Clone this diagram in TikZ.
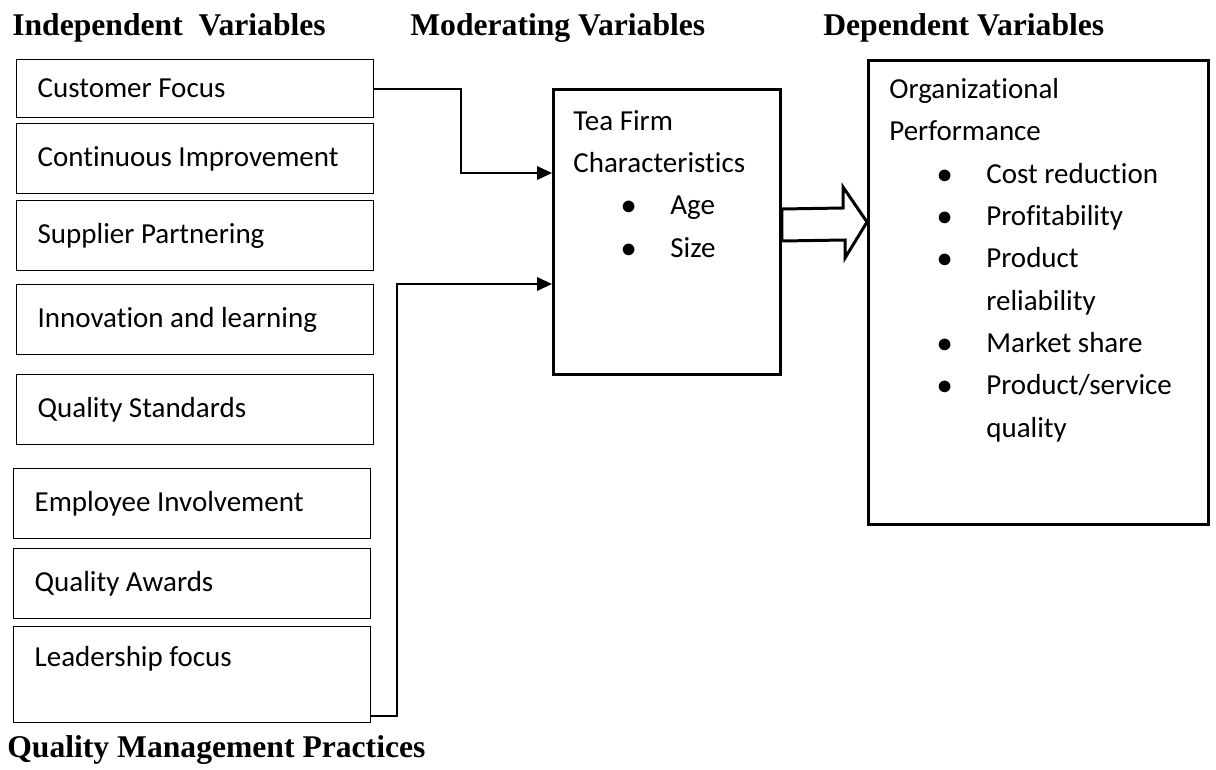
\documentclass[tikz,border=0pt]{standalone}
\usepackage{fontspec}
\usepackage{tikz}
\usetikzlibrary{
    arrows.meta,
    calc,
    positioning
}
\setmainfont{Carlito}[Ligatures=NoCommon]
\newfontfamily\hdrserif{Liberation Serif}
\newcommand{\bodyfnt}{\fontsize{16.5}{24.1}\selectfont}
\newcommand{\hdrfnt}{\hdrserif\bfseries\fontsize{18}{22}\selectfont}
\newcommand{\itm}[1]{\hspace*{0.96cm}\makebox[0.98cm][l]{$\bullet$}#1}
\tikzset{ivbox/.style={draw, line width=0.75pt, anchor=north west, text width=6.3cm, inner xsep=0.42cm, inner ysep=0pt, align=flush left, font=\bodyfnt}}
\tikzset{bigbx/.style={draw, line width=1.7pt, anchor=north west, inner sep=0pt}}
\tikzset{bxtxt/.style={anchor=north west, inner sep=0pt, align=left, font=\bodyfnt}}
\tikzset{hdr/.style={anchor=base west, inner sep=0pt, font=\hdrfnt}}
\tikzset{lnk/.style={line width=1.1pt, -{Triangle[length=0.3cm, width=0.27cm]}}}

\begin{document}
\begin{tikzpicture}[x=0.02cm, y=-0.02cm]
                        \useasboundingbox (0,0) rectangle (1216,770);
                        \node[hdr] (hiv) at (12,36) {Independent~ Variables};
                        \node[hdr] (hmv) at (410,36) {Moderating Variables};
                        \node[hdr] (hdv) at (823,36) {Dependent Variables};
                        \node[hdr] (hqm) at (7,757) {Quality Management Practices};
                        \node[ivbox, minimum height=1.16cm] (b1) at (16,59) {Customer Focus};
                        \node[ivbox, minimum height=1.4cm] (b2) at (16,123) {Continuous Improvement};
                        \node[ivbox, minimum height=1.4cm] (b3) at (16,200) {Supplier Partnering};
                        \node[ivbox, minimum height=1.4cm] (b4) at (16,284) {Innovation and learning};
                        \node[ivbox, minimum height=1.4cm] (b5) at (16,374) {Quality Standards};
                        \node[ivbox, minimum height=1.4cm] (b6) at (13,468) {Employee Involvement};
                        \node[ivbox, minimum height=1.4cm] (b7) at (13,548) {Quality Awards};
                        \node[ivbox, minimum height=1.92cm, text depth=0.73cm] (b8) at (13,626) {Leadership focus};
                        \node[bigbx, minimum width=4.54cm, minimum height=5.7cm] (firm) at (552,88) {};
                        \node[bigbx, minimum width=6.8cm, minimum height=9.28cm] (perf) at (867,59) {};
                        \node[bxtxt] (firmtx) at (573,110) {Tea Firm\\Characteristics\\\itm{Age}\\\itm{Size}};
                        \node[bxtxt] (perftx) at (889,78) {Organizational\\Performance\\\itm{Cost reduction}\\\itm{Profitability}\\\itm{Product}\\\hspace*{1.94cm}reliability\\\itm{Market share}\\\itm{Product/service}\\\hspace*{1.94cm}quality};
                        \draw[lnk] (b1.east) -| (461,173) -- (firm.west |- 0,173);
                        \draw[lnk] (b8.east |- 0,716) -| (397,284) -- (firm.west |- 0,284);
                        \draw[line width=1.7pt, fill=white, line join=miter]
                        (firm.east |- 0,209) -- (843,208) -- (843,187) -- (perf.west |- 0,222)
                        -- (845,258) -- (845,240) -- (firm.east |- 0,241) -- cycle;
                    \end{tikzpicture}
\end{document}
